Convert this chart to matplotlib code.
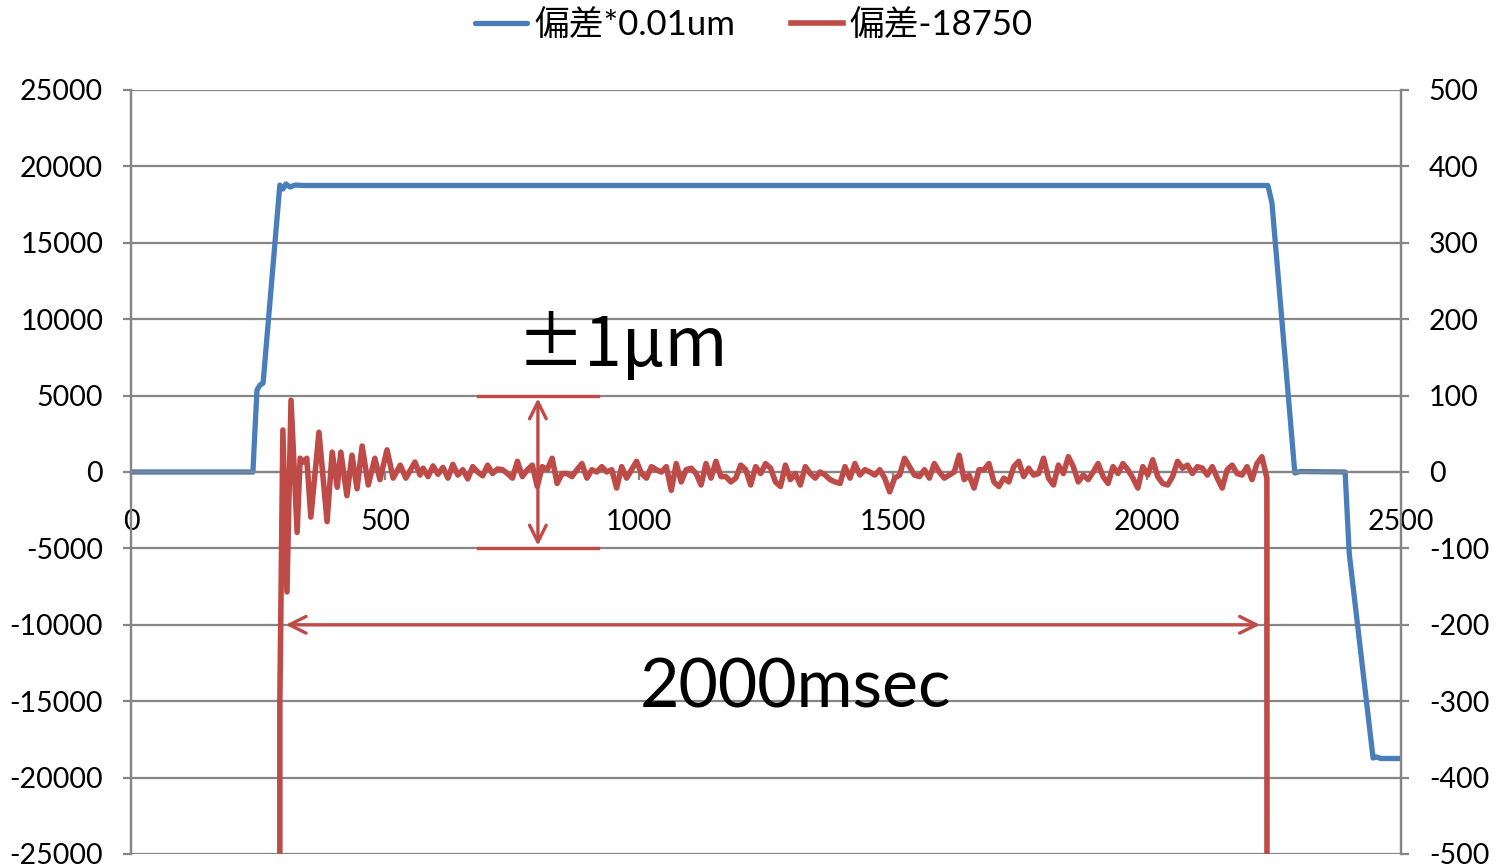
import numpy as np
import matplotlib
matplotlib.use("Agg")
import matplotlib.pyplot as plt

plt.rcParams['font.family'] = ['Lato', 'Noto Sans CJK JP', 'DejaVu Sans']
plt.rcParams['axes.unicode_minus'] = False

# colours (Excel 2007 style)
color_blue = "#4A7EBB"
color_red = "#BE4B48"
color_grid = "#868686"

# series names
label_blue = "偏差*0.01um"
label_red = "偏差-18750"

# blue: deviation [0.01um], left axis
blue_t = [0, 240, 244, 248, 254, 260, 293, 299, 305, 313, 323, 340,
          2238, 2246, 2291, 2301, 2390, 2398, 2445, 2452, 2460, 2500]
blue_v = [0, 0, 2750, 5370, 5690, 5820, 18780, 18520, 18850, 18650, 18780, 18750,
          18750, 17600, -65, 30, 0, -5300, -18720, -18650, -18750, -18750]

# red: deviation - 18750, right axis; transient after the move
red_t = [292, 293, 299, 307, 315, 327, 333, 339, 346, 354, 370, 386, 396, 406, 413,
         425, 435, 445, 455, 467, 480, 490, 504, 516, 530, 541, 559, 569]
red_v = [-18750, -300, 55, -157, 94, -79, 18, 13, 18, -59, 52, -65, 26, -20, 26,
         -31, 22, -22, 34, -17, 18, -10, 29, -8, 9, -8, 13, -4]

# red: settled noise, evenly sampled from 575 to 2236 ms
red_noise = [5, -6, 8, -3, 6, -8, 10, -4, 3, -9, 7, 0, -5, 9, -2, 4,
             3, -2, -8, 14, -6, 3, 9, -19, 7, 3, 18, -15, -2, -2, -6, 3,
             11, -8, 3, 0, 7, 0, 3, -21, 7, -8, 3, 14, -2, -8, 7, 3,
             0, 7, -24, 11, -13, 3, 5, -2, -17, 11, -8, 14, -6, -6, -13, -8,
             9, 3, -17, 7, -2, 11, 5, -13, -19, 9, -10, -2, -17, 7, -2, -8,
             0, -4, -10, -13, -15, 7, -8, 11, -4, 3, 0, -4, 3, -8, -26, -8,
             -4, 18, 7, -4, -6, 3, -8, 11, 0, -8, -4, 0, 22, -10, -4, -21,
             3, 3, 11, -13,
             -19, -8, -13, 7, 14, -6, 5, -4, -2, 18, -8, -17, 9, -2, 20, 7,
             -13, -4, -10, 0, 11, -6, -15, 7, -2, 11, 3, -8, -21, 7, -4, 16,
             -6, -15, -17, -6, 14, 5, 9, -2, 7, 5, -4, 7, -8, -21, 3, 9,
             -2, -4, 7, -10, 11, 20, -8]
red_end_t = [2243]
red_end_v = [-18750]

# annotation positions (data units)
band_x = 801
band_x0, band_x1 = 683, 919
band_top, band_bot = 5000, -5000
span_y = -10000
span_x0, span_x1 = 299, 2228

t_noise = np.linspace(575, 2236, len(red_noise))
red_all_t = np.concatenate([red_t, t_noise, red_end_t])
red_all_v = np.concatenate([red_v, red_noise, red_end_v])

fig = plt.figure(figsize=(14.99, 8.67), dpi=100)
ax = fig.add_axes([131/1499, 13/867, 1270/1499, 764/867])
ax2 = ax.twinx()

ax.plot(blue_t, blue_v, color=color_blue, linewidth=3.8, label=label_blue,
        solid_joinstyle="round", solid_capstyle="round")
ax2.plot(red_all_t, red_all_v, color=color_red, linewidth=4.0, label=label_red,
         solid_joinstyle="round")

ax.set_xlim(0, 2500)
ax.set_ylim(-25000, 25000)
ax2.set_ylim(-500, 500)
ax.set_yticks(np.arange(-25000, 25001, 5000))
ax2.set_yticks(np.arange(-500, 501, 100))
ax.set_xticks(np.arange(0, 2501, 500))

ax.grid(axis="y", color=color_grid, linewidth=1.6)
ax.set_axisbelow(True)
for a in (ax, ax2):
    a.spines["top"].set_visible(False)
    a.spines["left"].set_color(color_grid)
    a.spines["right"].set_color(color_grid)
    a.spines["left"].set_linewidth(1.6)
    a.spines["right"].set_linewidth(1.6)
ax.spines["bottom"].set_position(("data", 0))
ax.spines["bottom"].set_color(color_grid)
ax.spines["bottom"].set_linewidth(1.6)
ax2.spines["bottom"].set_visible(False)

ax.tick_params(axis="y", labelsize=20.5, length=6, width=1.6, color=color_grid, pad=14)
ax2.tick_params(axis="y", labelsize=20.5, length=6, width=1.6, color=color_grid, pad=14)
ax.tick_params(axis="x", labelsize=20.5, length=6, width=1.6, color=color_grid, pad=21)

# ±1um band
ax.plot([band_x0, band_x1], [band_top, band_top], color=color_red, linewidth=2.4)
ax.plot([band_x0, band_x1], [band_bot, band_bot], color=color_red, linewidth=2.4)
ax.annotate("", xy=(band_x, band_top), xytext=(band_x, band_bot),
            arrowprops=dict(arrowstyle="<->", color=color_red, lw=2.4, mutation_scale=30))
ax.text(967, 8150, "±1μm", fontsize=49, ha="center", va="center",
        family=['Noto Sans CJK JP', 'DejaVu Sans'])

# 2000 msec span
ax.annotate("", xy=(span_x0, span_y), xytext=(span_x1, span_y),
            arrowprops=dict(arrowstyle="<->", color=color_red, lw=2.4, mutation_scale=30))
ax.text(1309, -14150, "2000msec", fontsize=49, ha="center", va="center")

h1, l1 = ax.get_legend_handles_labels()
h2, l2 = ax2.get_legend_handles_labels()
fig.legend(h1 + h2, l1 + l2, loc="center", bbox_to_anchor=(0.503, 0.971), ncol=2,
           frameon=False, fontsize=25, handlelength=1.5, handletextpad=0.2, columnspacing=1.6)

fig.savefig("out.png", dpi=100)
